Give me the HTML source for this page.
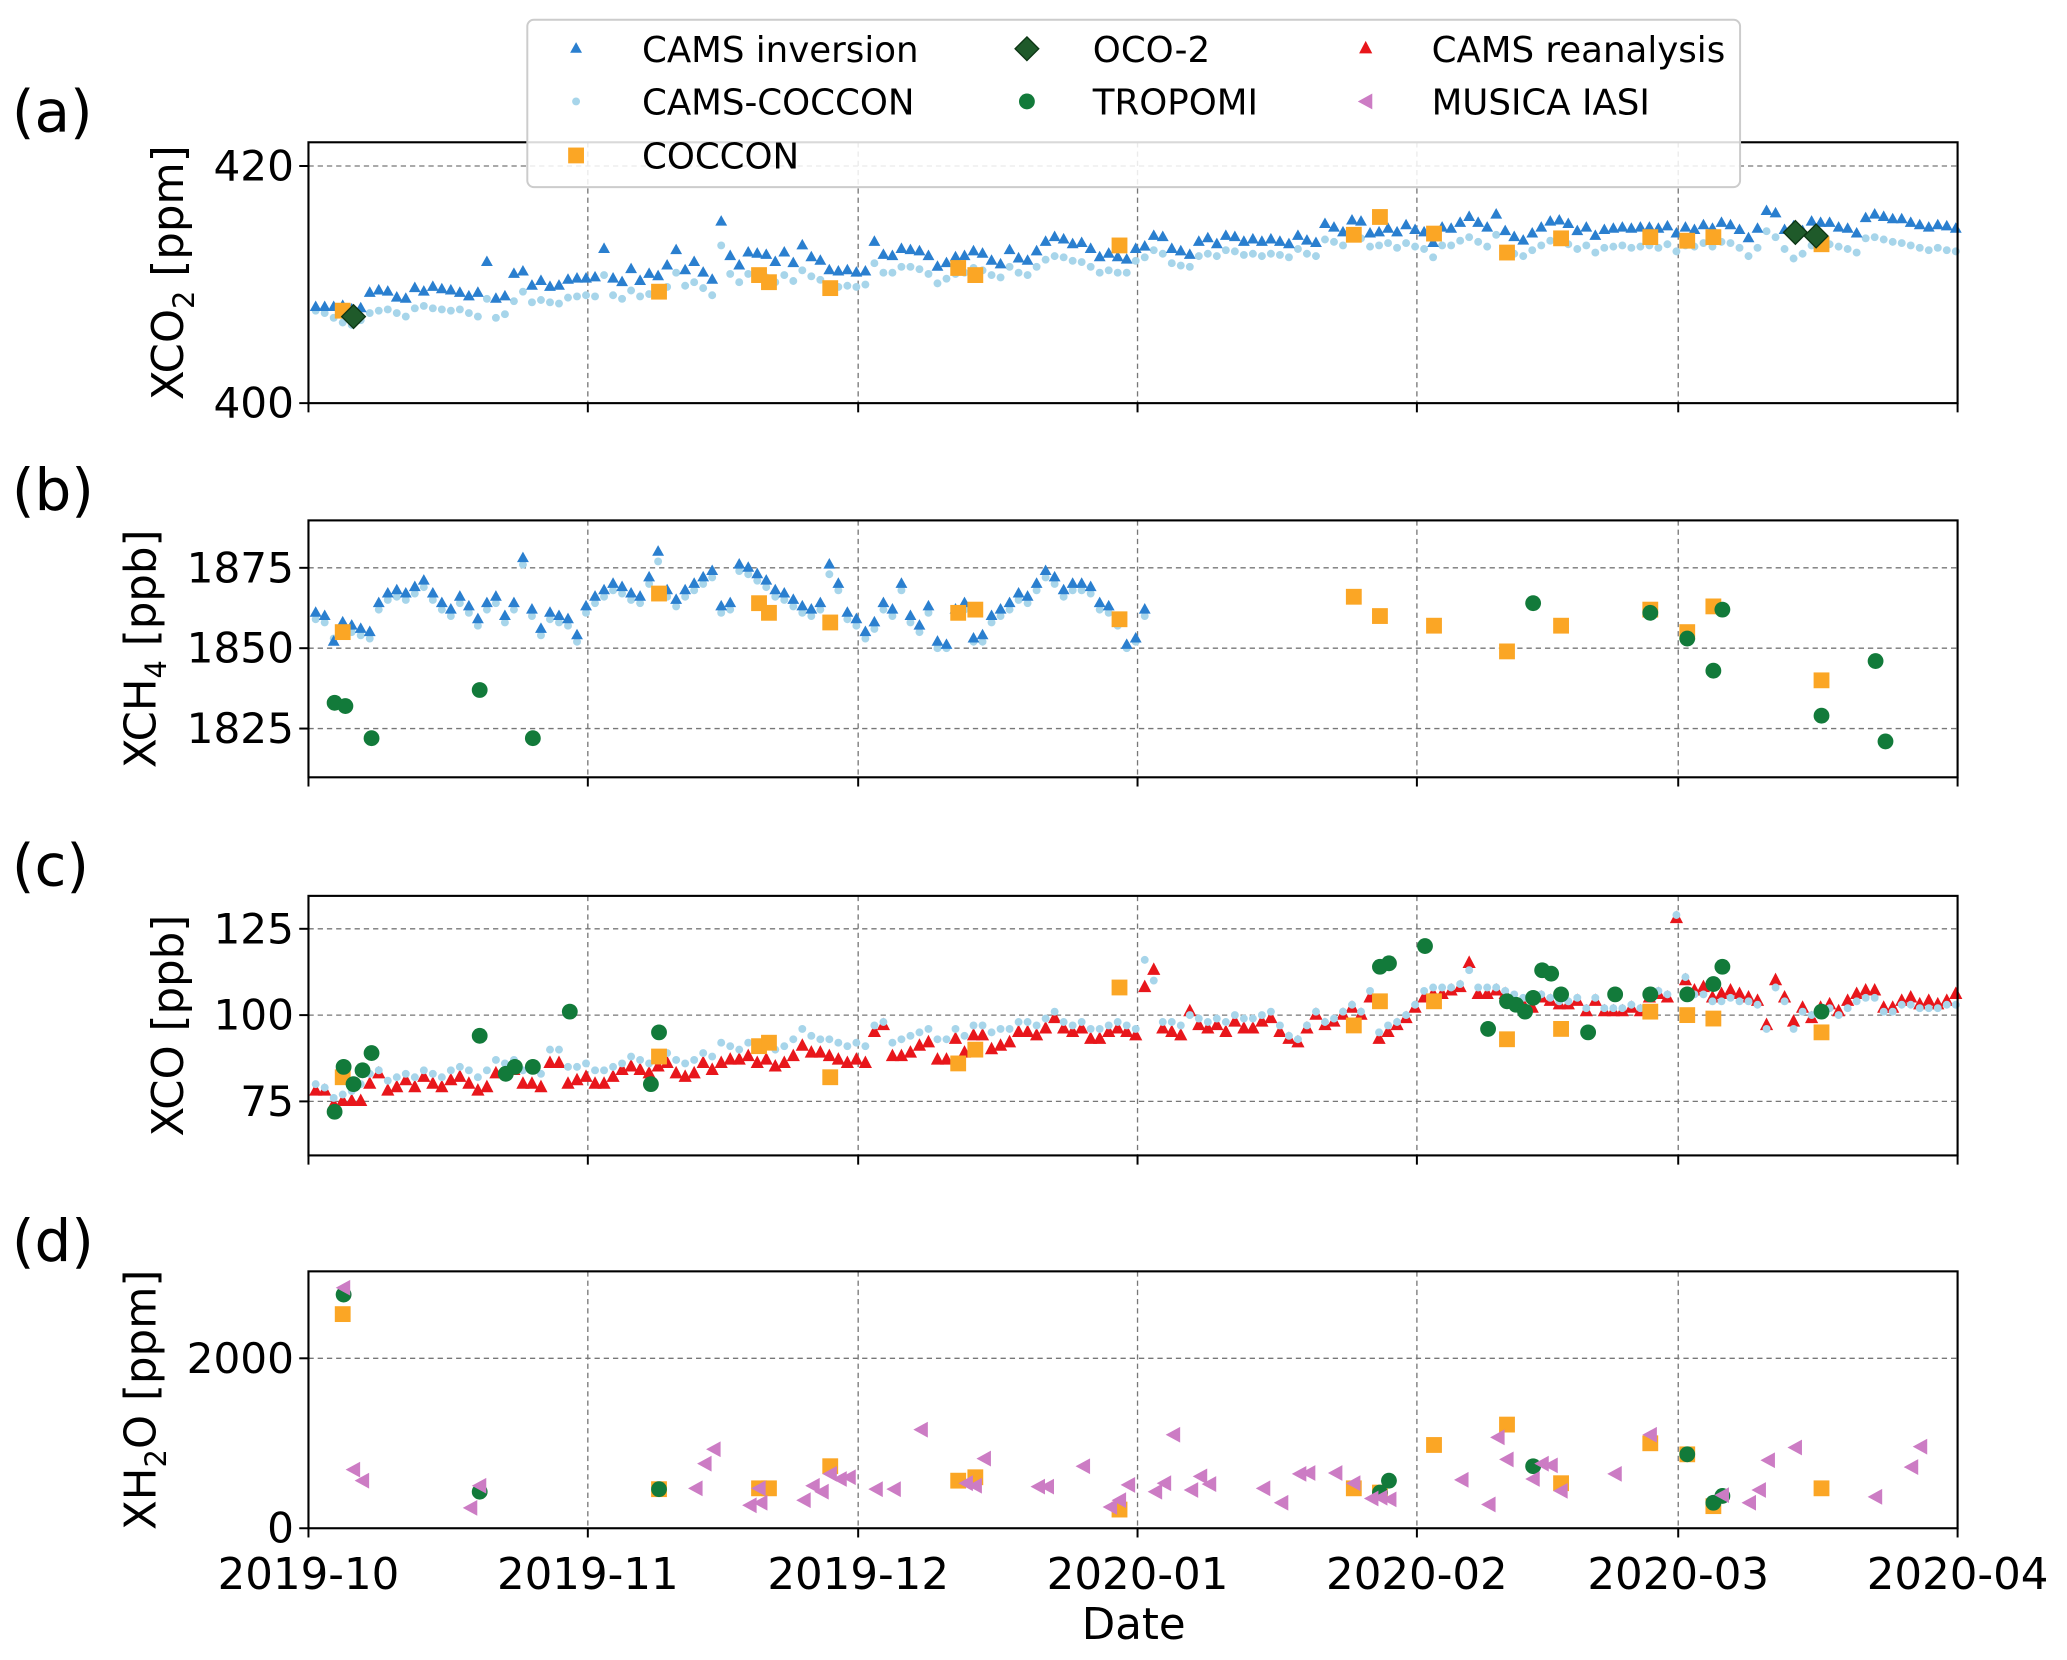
<!DOCTYPE html>
<html><head><meta charset="utf-8"><style>
html,body{margin:0;padding:0;background:#fff;}
svg{display:block;font-family:"DejaVu Sans","Liberation Sans",sans-serif;}
</style></head><body>
<svg id="fig" width="2067" height="1660" viewBox="0 0 1568 1260" preserveAspectRatio="none" xmlns="http://www.w3.org/2000/svg"></svg>
<script>
// ---- data ----
const xTickLabels = ["2019-10","2019-11","2019-12","2020-01","2020-02","2020-03","2020-04"];
const xTickDays = [0,31,61,92,123,152,183];
const co2Ticks = [400,420], ch4Ticks = [1825,1850,1875], coTicks = [75,100,125], h2oTicks = [0,2000];
const co2Inv = [408.1,408.1,408.1,408.2,407.9,408.0,409.3,409.5,409.4,408.9,408.8,409.7,409.4,409.8,409.6,409.5,409.3,409.0,409.3,411.9,408.8,409.0,410.9,411.1,409.9,410.3,409.8,409.9,410.4,410.5,410.5,
410.6,413.0,410.5,410.2,411.3,410.3,410.9,410.7,411.6,412.9,411.2,411.9,411.0,410.4,415.3,412.4,411.6,412.7,412.6,412.5,411.9,412.7,411.8,413.3,412.3,412.0,411.2,411.1,411.2,411.0,
411.1,413.6,412.5,412.4,413.0,412.9,412.8,412.4,411.5,411.8,412.3,412.4,412.8,412.6,412.0,411.7,412.9,412.2,412.0,412.8,413.6,414.0,413.8,413.4,413.5,413.0,412.3,412.6,412.3,412.1,413.0,
413.2,414.1,414.0,413.0,412.8,412.5,413.6,413.9,413.4,414.1,414.0,413.6,413.8,413.6,413.8,413.6,413.4,414.1,413.7,413.5,415.1,414.8,414.4,415.4,415.3,414.3,414.4,414.7,414.4,415.0,414.6,
414.4,413.5,414.8,414.7,415.2,415.7,415.2,414.8,415.9,414.5,414.0,413.7,414.3,414.8,415.3,415.4,415.1,414.5,414.8,414.1,414.6,414.7,414.8,414.7,414.8,414.8,414.7,414.9,414.3,
414.8,414.6,415.0,414.7,415.2,415.0,414.6,413.9,414.7,416.2,416.0,414.6,414.9,414.5,415.3,415.2,415.2,414.8,414.7,414.3,415.6,415.9,415.7,415.5,415.5,415.2,415.0,414.8,415.0,414.9,414.7];
const co2Cc = [407.8,407.6,407.2,406.8,406.6,407.0,407.6,407.8,407.9,407.6,407.3,408.0,408.2,408.0,407.9,407.8,407.9,407.6,407.3,408.8,407.2,407.5,408.6,409.4,408.5,408.7,408.5,408.4,408.9,409.0,409.1,
409.0,410.8,409.1,408.8,409.5,409.0,409.2,409.3,409.8,411.0,409.9,410.2,409.7,409.1,413.3,410.9,410.2,410.9,410.5,410.6,410.2,410.8,410.3,411.2,410.7,410.4,409.9,409.8,409.9,409.8,
410.0,411.8,411.0,411.0,411.5,411.5,411.3,410.9,410.1,410.5,410.9,411.0,411.4,411.2,410.8,410.6,411.5,411.0,410.8,411.5,412.1,412.4,412.3,412.0,411.9,411.5,411.0,411.2,411.0,411.0,412.0,
412.3,412.9,412.6,411.8,411.6,411.5,412.4,412.6,412.4,412.9,412.8,412.5,412.6,412.4,412.6,412.5,412.3,413.0,412.6,412.4,413.8,413.6,413.3,414.0,413.9,413.2,413.3,413.5,413.1,413.5,413.2,
413.0,412.3,413.3,413.3,413.7,414.0,413.6,413.2,414.2,412.9,412.6,412.4,412.9,413.3,413.7,413.7,413.4,413.0,413.3,412.7,413.1,413.2,413.3,413.1,413.2,413.3,413.1,413.4,412.8,
413.3,413.2,413.5,413.2,413.6,413.5,413.1,412.4,413.1,414.5,414.0,413.0,412.2,412.6,413.3,413.5,413.4,413.2,413.0,412.7,413.9,414.0,413.8,413.6,413.5,413.3,413.1,412.9,413.1,412.9,412.8];
const ch4Inv = [1861,1860,1852,1858,1857,1856,1855,1864,1867,1868,1867,1869,1871,1867,1864,1862,1866,1863,1859,1864,1866,1860,1864,1878,1862,1856,1861,1860,1859,1854,1863,
1866,1868,1870,1869,1867,1866,1872,1880,1868,1865,1868,1870,1872,1874,1863,1864,1876,1875,1873,1871,1868,1867,1865,1863,1862,1864,1876,1870,1861,1859,
1855,1858,1864,1862,1870,1860,1857,1863,1852,1851,1862,1864,1853,1854,1860,1862,1864,1867,1866,1870,1874,1872,1868,1870,1870,1869,1864,1863,1859,1851,1853,1862];
const ch4Cc = [1859,1858,1853,1856,1855,1854,1853,1862,1865,1866,1865,1867,1869,1865,1862,1860,1864,1861,1857,1862,1864,1858,1862,1876,1860,1854,1859,1858,1857,1852,1861,
1864,1866,1868,1867,1865,1864,1870,1877,1866,1863,1866,1868,1870,1872,1861,1862,1874,1873,1871,1869,1866,1865,1863,1861,1860,1862,1873,1868,1859,1857,
1853,1856,1862,1860,1868,1858,1855,1861,1850,1850,1860,1862,1852,1852,1858,1860,1862,1865,1864,1868,1872,1870,1866,1868,1868,1867,1862,1861,1857,1850,1852,1860];
const coRea = [78,78,74,75,75,75,80,83,78,79,81,79,82,80,79,81,82,80,78,79,83,83,84,80,80,79,86,86,80,81,82,
80,80,82,84,85,84,83,85,86,83,82,83,86,84,86,87,87,88,86,87,85,86,88,91,89,89,88,87,86,87,
86,95,97,88,88,89,91,92,87,87,93,89,94,94,90,91,92,95,95,94,96,99,96,95,96,93,93,95,96,95,94,
108,113,96,95,94,101,97,96,97,95,98,96,96,98,99,95,93,92,96,100,97,98,100,102,100,105,93,95,97,99,102,
105,106,106,107,108,115,106,106,107,106,104,103,102,105,104,103,103,104,101,104,101,101,101,102,101,105,106,105,128,
110,107,108,105,106,107,106,105,104,97,110,105,98,102,99,102,103,101,104,106,107,107,102,102,104,105,103,104,103,104,106];
const coCc = [80,79,76,77,78,80,83,84,81,82,83,82,84,83,82,84,85,84,82,84,87,86,87,84,84,83,90,90,85,85,86,
84,84,85,86,88,87,86,88,89,87,86,87,89,88,92,91,90,92,90,91,90,91,93,96,94,93,93,92,91,92,
91,97,98,92,93,94,95,96,93,93,96,94,97,97,95,96,96,98,98,97,99,101,98,97,98,96,96,97,98,97,96,
116,110,98,98,97,100,99,98,99,98,100,99,99,100,101,97,94,93,97,101,98,99,101,103,101,107,95,97,98,100,103,
107,108,108,108,109,113,108,108,108,107,106,105,104,106,105,104,104,105,102,105,102,102,102,103,102,106,107,106,129,
111,106,106,104,104,105,104,104,103,96,108,104,96,101,100,100,102,100,102,104,105,105,101,101,103,103,102,102,102,103,103];
const cocDays = [3.8,38.9,50,51.1,57.9,72.1,74,90,116,118.9,124.9,133,139,148.9,153,155.9,167.9];
const cocCO2 = [407.8,409.4,410.8,410.2,409.7,411.4,410.8,413.3,414.2,415.7,414.3,412.7,413.9,414,413.7,414,413.4];
const cocCH4 = [1855,1867,1864,1861,1858,1861,1862,1859,1866,1860,1857,1849,1857,1862,1855,1863,1840];
const cocCO = [82,88,91,92,82,86,90,108,97,104,104,93,96,101,100,99,95];
const cocH2O = [2520,460,470,470,730,560,600,220,470,420,980,1220,530,1000,870,260,470];
const ocoDays = [5,165,167.3];
const ocoCO2 = [407.3,414.4,414.1];
const tropCH4Days = [2.9,4.1,7,19,24.9,135.9,148.9,153,155.9,156.9,167.9,173.9,175];
const tropCH4 = [1833,1832,1822,1837,1822,1864,1861,1853,1843,1862,1829,1846,1821];
const tropCODays = [2.9,3.9,5,6,7,19,21.9,22.9,24.9,29,38,38.9,118.9,119.9,123.9,130.9,133,134,135,135.9,136.9,137.9,139,142,145,148.9,153,155.9,156.9,167.9];
const tropCO = [72,85,80,84,89,94,83,85,85,101,80,95,114,115,120,96,104,103,101,105,113,112,106,95,106,106,106,109,114,101];
const tropH2ODays = [3.9,19,38.9,118.9,119.9,135.9,153,155.9,156.9];
const tropH2O = [2750,430,460,420,560,730,870,300,380];
const iasiDays = [3.9,5,6,18,19,45,44,43,50,49,50.2,55,56,57,57.9,59,60,63,65,68,73,74,75,81,82,86,89,90,91,94,95,96,98,99,100,106,108,110,111,114,116,118,119,120,128,131,132,133,135.9,136.9,137.9,139,145,148.9,156.9,159.9,161,162,165,173.9,177.9,178.9];
const iasiH2O = [2830,690,560,240,500,930,760,470,470,270,300,330,500,430,640,580,600,460,460,1160,530,500,820,490,490,730,250,330,510,430,530,1100,450,610,520,470,300,640,650,650,530,350,360,340,570,280,1070,810,580,760,740,440,640,1100,390,300,450,800,950,370,720,960];

// ---- layout (viewBox units) ----
const X0=234, X1=1485, DAYS=183;
const xs = d => X0 + d*(X1-X0)/DAYS;
const panels = {
  a:{top:108,bot:306,v0:400,p0:306,v1:420,p1:126,lx:139},
  b:{top:395,bot:590,v0:1850,p0:492,v1:1875,p1:431,lx:118},
  c:{top:680,bot:877,v0:75,p0:836,v1:125,p1:705,lx:139},
  d:{top:965,bot:1160,v0:0,p0:1160,v1:2000,p1:1031,lx:118}
};
const ys = (p,v) => p.p0 + (v-p.v0)*(p.p1-p.p0)/(p.v1-p.v0);
const NS="http://www.w3.org/2000/svg";
const svg=document.getElementById('fig');
function mk(tag,attrs,parent){const e=document.createElementNS(NS,tag);for(const k in attrs)e.setAttribute(k,attrs[k]);(parent||svg).appendChild(e);return e;}

const C={inv:"#2a7fcf",cc:"#a7d5ea",rea:"#e8161b",coc:"#fba625",trop:"#127a3a",oco:"#1f5a2a",iasi:"#cc7cc4"};
function marker(g,type,x,y){
  let e;
  if(type==="inv"){e=mk('polygon',{points:`${x},${y-5} ${x-4.5},${y+3} ${x+4.5},${y+3}`,fill:C.inv},g);}
  else if(type==="rea"){e=mk('polygon',{points:`${x},${y-6} ${x-5},${y+3.5} ${x+5},${y+3.5}`,fill:C.rea},g);}
  else if(type==="cc"){e=mk('circle',{cx:x,cy:y,r:3,fill:C.cc},g);}
  else if(type==="coc"){e=mk('rect',{x:x-6,y:y-6,width:12,height:12,fill:C.coc},g);}
  else if(type==="trop"){e=mk('circle',{cx:x,cy:y,r:6,fill:C.trop},g);}
  else if(type==="oco"){e=mk('polygon',{points:`${x},${y-9} ${x+9},${y} ${x},${y+9} ${x-9},${y}`,fill:C.oco,stroke:"#0d3514","stroke-width":1},g);}
  else if(type==="iasi"){e=mk('polygon',{points:`${x-6},${y} ${x+5},${y-6} ${x+5},${y+6}`,fill:C.iasi},g);}
  return e;
}
function series(p,name,type,days,vals){
  const g=mk('g',{});
  
  
  for(let i=0;i<vals.length;i++){
    const m=marker(g,type,xs(days?days[i]:i+0.8),ys(p,vals[i]));
    
    
  }
}
function axes(key,ticks,label,ylab){
  const p=panels[key];
  const g=mk('g',{});
  
  
  xTickDays.forEach(d=>{const x=xs(d);mk('line',{x1:x,x2:x,y1:p.top,y2:p.bot,stroke:"#777","stroke-width":1,"stroke-dasharray":"4,3"},g);});
  ticks.forEach(v=>{const y=ys(p,v);mk('line',{x1:X0,x2:X1,y1:y,y2:y,stroke:"#777","stroke-width":1,"stroke-dasharray":"4,3"},g);
    mk('line',{x1:X0-7,x2:X0,y1:y,y2:y,stroke:"#000","stroke-width":1.5},g);
    const t=mk('text',{x:X0-11,y:y+11,"text-anchor":"end","font-size":32},g);t.textContent=v;
    
    
  });
  xTickDays.forEach(d=>{const x=xs(d);mk('line',{x1:x,x2:x,y1:p.bot,y2:p.bot+7,stroke:"#000","stroke-width":1.5},g);});
  const lab=mk('text',{x:9,y:p.top-8,"font-size":44},g);lab.textContent=label;
  
  
  const cy=(p.top+p.bot)/2;
  const yl=mk('text',{x:0,y:0,"text-anchor":"middle","font-size":33,transform:`translate(${p.lx},${cy}) rotate(-90)`},g);
  yl.innerHTML=ylab;
  
  
  return p;
}
function frame(p){mk('rect',{x:X0,y:p.top,width:X1-X0,height:p.bot-p.top,fill:"none",stroke:"#000","stroke-width":1.6});}

const pa=axes('a',co2Ticks,'(a)','XCO<tspan font-size="22" dy="8">2</tspan><tspan dy="-8"> [ppm]</tspan>');
series(pa,'cams-coccon-xco2','cc',null,co2Cc);
series(pa,'cams-inversion-xco2','inv',null,co2Inv);
series(pa,'coccon-xco2','coc',cocDays,cocCO2);
series(pa,'oco2-xco2','oco',ocoDays,ocoCO2);
frame(pa);

const pb=axes('b',ch4Ticks,'(b)','XCH<tspan font-size="22" dy="8">4</tspan><tspan dy="-8"> [ppb]</tspan>');
series(pb,'cams-coccon-xch4','cc',null,ch4Cc);
series(pb,'cams-inversion-xch4','inv',null,ch4Inv);
series(pb,'coccon-xch4','coc',cocDays,cocCH4);
series(pb,'tropomi-xch4','trop',tropCH4Days,tropCH4);
frame(pb);

const pc=axes('c',coTicks,'(c)','XCO [ppb]');
series(pc,'cams-reanalysis-xco','rea',null,coRea);
series(pc,'cams-coccon-xco','cc',null,coCc);
series(pc,'coccon-xco','coc',cocDays,cocCO);
series(pc,'tropomi-xco','trop',tropCODays,tropCO);
frame(pc);

const pd=axes('d',h2oTicks,'(d)','XH<tspan font-size="22" dy="8">2</tspan><tspan dy="-8">O [ppm]</tspan>');
series(pd,'coccon-xh2o','coc',cocDays,cocH2O);
series(pd,'tropomi-xh2o','trop',tropH2ODays,tropH2O);
series(pd,'musica-iasi-xh2o','iasi',iasiDays,iasiH2O);
frame(pd);

xTickDays.forEach((d,i)=>{const t=mk('text',{x:xs(d),y:1206,"text-anchor":"middle","font-size":33});t.textContent=xTickLabels[i];
  
  });
const xt=mk('text',{x:860,y:1244,"text-anchor":"middle","font-size":33});xt.textContent="Date";



// legend
const lg=mk('g',{});


mk('rect',{x:400,y:15,width:920,height:127,rx:5,fill:"#fff","fill-opacity":0.85,stroke:"#ccc","stroke-width":1.5},lg);
const entries=[["inv","CAMS inversion",437,37],["cc","CAMS-COCCON",437,77],["coc","COCCON",437,118],
 ["oco","OCO-2",779,37],["trop","TROPOMI",779,77],["rea","CAMS reanalysis",1036,37],["iasi","MUSICA IASI",1036,77]];
entries.forEach(e=>{
  const g=mk('g',{},lg);
  
  
  marker(g,e[0],e[2],e[3]);
  const t=mk('text',{x:e[2]+50,y:e[3]+10,"font-size":27},g);t.textContent=e[1];
});
</script>
</body></html>
